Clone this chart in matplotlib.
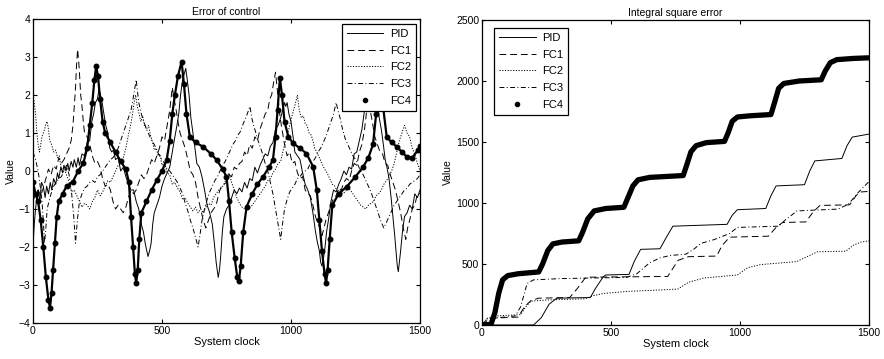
import matplotlib
matplotlib.use("Agg")
import matplotlib.pyplot as plt
from matplotlib.lines import Line2D

# ---------------- data: Error of control (left), (clock, error) pairs ----------------
pid_err = [(0, -2.0), (5, -1.4), (10, -1.0), (15, -0.7), (20, -0.5), (27, -0.8), (33, -0.3), (40, -0.4),
           (47, -0.7), (53, -0.4), (60, -0.6), (67, -0.3), (73, -0.5), (80, -0.2), (88, -0.35), (95, -0.05),
           (100, -0.2), (108, 0.1), (115, -0.05), (120, 0.15), (128, 0.0), (135, 0.2), (140, 0.0), (148, 0.25),
           (155, 0.1), (160, 0.3), (168, 0.1), (175, 0.35), (180, 0.15), (190, 0.45), (200, 0.4), (210, 0.75),
           (220, 0.8), (228, 1.3), (235, 1.5), (242, 1.8), (250, 1.9), (256, 2.15), (262, 2.0), (268, 1.8),
           (275, 1.5), (282, 1.2), (290, 1.0), (298, 0.6), (305, 0.5), (312, 0.55), (320, 0.3), (330, 0.35),
           (340, 0.0), (350, 0.1), (360, -0.15), (370, -0.35), (380, -0.5), (390, -0.5), (400, -0.8),
           (410, -1.0), (420, -1.4), (428, -1.6), (435, -1.9), (441, -2.1), (446, -2.25), (452, -2.1),
           (458, -1.9), (464, -1.4), (470, -1.1), (480, -0.9), (490, -0.7), (500, -0.4), (510, -0.2),
           (520, -0.05), (530, 0.1), (540, 0.5), (550, 0.9), (558, 1.2), (565, 1.5), (572, 2.0), (580, 2.4),
           (586, 2.55), (592, 2.7), (598, 2.4), (605, 2.0), (612, 1.4), (618, 1.1), (626, 0.7), (635, 0.2),
           (645, 0.1), (655, -0.15), (665, -0.5), (675, -0.9), (685, -1.1), (695, -1.4), (703, -1.9),
           (710, -2.4), (718, -2.8), (723, -2.6), (728, -2.2), (734, -1.6), (740, -1.2), (750, -1.0),
           (760, -0.9), (770, -0.7), (780, -0.5), (790, -0.6), (800, -0.45), (810, -0.55), (820, -0.3),
           (830, -0.45), (840, -0.2), (850, -0.25), (860, 0.1), (870, -0.05), (880, 0.15), (890, 0.3),
           (900, 0.45), (910, 0.4), (920, 0.65), (930, 0.75), (940, 1.1), (950, 1.2), (960, 1.4), (968, 1.6),
           (975, 1.8), (980, 1.7), (985, 1.8), (992, 1.5), (1000, 1.3), (1008, 0.9), (1015, 0.5), (1025, 0.4),
           (1035, 0.3), (1045, -0.05), (1055, -0.35), (1065, -0.5), (1075, -0.7), (1085, -1.1), (1095, -1.6),
           (1103, -1.9), (1110, -2.1), (1115, -2.4), (1120, -2.5), (1126, -2.3), (1132, -2.0), (1138, -1.6),
           (1145, -1.3), (1155, -0.8), (1165, -0.5), (1175, -0.55), (1185, -0.35), (1195, -0.2), (1205, 0.0),
           (1215, -0.1), (1225, 0.1), (1235, 0.05), (1245, 0.45), (1255, 0.5), (1265, 0.8), (1275, 1.1),
           (1285, 1.6), (1295, 1.7), (1305, 1.9), (1312, 2.1), (1320, 2.2), (1328, 2.0), (1335, 1.8),
           (1342, 1.4), (1350, 1.1), (1358, 0.7), (1365, 0.3), (1372, 0.1), (1380, -0.2), (1388, -0.7),
           (1395, -1.2), (1402, -1.7), (1408, -2.2), (1412, -2.5), (1416, -2.65), (1420, -2.4), (1425, -2.1),
           (1432, -1.6), (1440, -1.2), (1450, -1.1), (1460, -0.9), (1470, -1.0), (1480, -0.6), (1490, -0.7),
           (1500, -0.5)]

fc1_err = [(0, -0.8), (10, -0.6), (20, -0.5), (30, -0.65), (40, -0.45), (50, -0.2), (60, 0.05), (70, -0.1),
           (80, 0.15), (90, 0.05), (100, 0.35), (110, 0.2), (120, 0.3), (130, 0.45), (140, 0.6), (148, 0.8),
           (155, 1.2), (160, 1.7), (165, 2.2), (169, 2.8), (173, 3.2), (177, 2.9), (180, 2.6), (185, 2.0),
           (190, 1.7), (195, 1.3), (200, 1.0), (210, 0.9), (220, 0.7), (230, 0.4), (240, 0.2), (250, 0.25),
           (260, 0.1), (270, -0.2), (280, -0.4), (290, -0.35), (300, -0.5), (310, -0.8), (320, -1.0),
           (330, -0.9), (340, -1.0), (350, -1.1), (360, -0.95), (370, -0.7), (380, -0.5), (390, -0.6),
           (400, -0.5), (410, -0.3), (420, -0.1), (430, -0.2), (440, -0.1), (450, 0.1), (460, 0.3), (470, 0.2),
           (480, 0.4), (490, 0.6), (500, 0.9), (510, 0.8), (520, 1.2), (530, 1.6), (540, 2.2), (547, 1.9),
           (555, 1.6), (562, 1.3), (570, 1.0), (580, 0.8), (590, 0.6), (600, 0.3), (610, 0.0), (620, -0.1),
           (630, -0.3), (640, -0.7), (650, -1.0), (660, -1.3), (670, -1.5), (680, -1.3), (690, -1.1),
           (700, -1.0), (710, -0.9), (720, -0.6), (730, -0.4), (740, -0.35), (750, -0.3), (760, -0.1),
           (770, -0.15), (780, 0.1), (790, 0.05), (800, 0.2), (810, 0.25), (820, 0.5), (830, 0.4), (840, 0.7),
           (850, 0.6), (860, 0.9), (870, 0.8), (880, 1.1), (890, 1.3), (900, 1.5), (910, 1.6), (918, 1.9),
           (925, 2.0), (932, 2.3), (940, 2.6), (946, 2.2), (952, 1.8), (958, 1.4), (965, 1.1), (975, 0.7),
           (985, 0.4), (995, 0.5), (1005, 0.2), (1015, 0.25), (1025, -0.05), (1035, -0.2), (1045, -0.15),
           (1055, -0.5), (1065, -0.6), (1075, -0.65), (1085, -0.9), (1095, -1.2), (1105, -1.4), (1112, -1.5),
           (1120, -1.7), (1128, -1.5), (1135, -1.3), (1145, -1.1), (1155, -0.9), (1165, -0.7), (1175, -0.65),
           (1185, -0.45), (1195, -0.5), (1205, -0.3), (1215, -0.2), (1225, -0.25), (1235, 0.0), (1245, 0.2),
           (1255, 0.15), (1265, 0.5), (1275, 0.7), (1285, 1.1), (1292, 1.5), (1300, 2.0), (1307, 1.6),
           (1315, 1.3), (1325, 0.9), (1335, 0.7), (1345, 0.5), (1355, 0.45), (1365, 0.2), (1375, 0.15),
           (1385, -0.1), (1395, -0.3), (1405, -0.5), (1415, -0.8), (1425, -1.1), (1435, -1.5), (1445, -1.8),
           (1452, -1.5), (1460, -1.3), (1470, -1.0), (1480, -0.9), (1490, -0.6), (1500, -0.6)]

fc2_err = [(0, 2.0), (5, 1.8), (10, 1.5), (15, 1.0), (20, 0.7), (25, 0.5), (30, 0.7), (35, 0.9), (40, 1.0),
           (45, 1.1), (50, 1.25), (55, 1.3), (60, 1.1), (65, 0.8), (72, 0.7), (80, 0.5), (88, 0.55), (95, 0.35),
           (102, 0.4), (110, 0.05), (120, 0.1), (130, -0.1), (140, -0.3), (150, -0.55), (160, -0.5),
           (170, -0.65), (180, -0.8), (190, -0.95), (200, -0.85), (210, -0.9), (220, -1.0), (230, -0.8),
           (240, -0.7), (250, -0.5), (260, -0.65), (270, -0.55), (280, -0.4), (290, -0.25), (300, -0.3),
           (310, -0.15), (320, 0.0), (330, 0.15), (340, 0.2), (350, 0.35), (360, 0.6), (370, 0.95), (378, 1.2),
           (385, 1.45), (392, 1.8), (398, 2.0), (404, 1.7), (410, 1.55), (418, 1.3), (425, 1.45), (432, 1.2),
           (440, 1.1), (448, 1.2), (455, 0.95), (462, 0.8), (470, 0.55), (478, 0.6), (485, 0.4), (492, 0.45),
           (500, 0.15), (510, 0.2), (520, -0.05), (530, -0.1), (540, -0.35), (550, -0.3), (560, -0.45),
           (570, -0.55), (580, -0.75), (590, -0.7), (600, -0.85), (610, -0.95), (620, -1.05), (630, -0.95),
           (640, -1.1), (650, -1.0), (660, -1.1), (670, -0.95), (680, -0.85), (690, -0.9), (700, -0.7),
           (710, -0.6), (720, -0.5), (730, -0.45), (740, -0.35), (750, -0.2), (760, -0.05), (770, -0.3),
           (780, -0.5), (790, -0.7), (800, -0.85), (810, -0.95), (820, -1.0), (830, -1.05), (840, -0.95),
           (850, -0.9), (860, -0.8), (870, -0.7), (880, -0.6), (890, -0.5), (900, -0.4), (910, -0.25),
           (920, -0.2), (930, -0.05), (940, 0.05), (950, 0.2), (960, 0.25), (970, 0.55), (980, 0.8), (988, 1.0),
           (995, 1.2), (1002, 1.4), (1010, 1.6), (1018, 1.8), (1025, 2.0), (1032, 1.6), (1040, 1.4),
           (1048, 1.45), (1055, 1.25), (1062, 1.2), (1070, 1.0), (1078, 0.95), (1085, 0.8), (1092, 0.6),
           (1100, 0.5), (1110, 0.35), (1120, 0.2), (1130, 0.05), (1140, -0.05), (1150, -0.2), (1160, -0.35),
           (1170, -0.4), (1180, -0.55), (1190, -0.5), (1200, -0.6), (1210, -0.55), (1220, -0.45), (1230, -0.5),
           (1240, -0.6), (1250, -0.7), (1260, -0.8), (1270, -0.9), (1280, -0.95), (1290, -1.0), (1300, -0.9),
           (1310, -0.85), (1320, -0.8), (1330, -0.65), (1340, -0.6), (1350, -0.5), (1360, -0.35), (1370, -0.25),
           (1380, -0.15), (1390, 0.0), (1400, 0.2), (1410, 0.5), (1420, 0.8), (1430, 1.0), (1440, 1.2),
           (1450, 1.0), (1460, 0.9), (1470, 0.6), (1480, 0.45), (1490, 0.2), (1500, 0.0)]

fc3_err = [(0, 0.5), (10, 0.3), (20, 0.0), (28, -0.4), (35, -0.8), (40, -1.3), (45, -1.9), (50, -1.5),
           (55, -1.0), (62, -0.8), (70, -0.6), (80, -0.4), (90, -0.3), (100, -0.2), (110, -0.15), (120, 0.0),
           (130, 0.15), (140, -0.1), (150, -0.6), (158, -1.2), (165, -1.9), (172, -1.3), (180, -0.8),
           (190, -0.6), (200, -0.45), (210, -0.4), (220, -0.3), (230, -0.25), (240, -0.3), (250, -0.15),
           (260, -0.1), (270, 0.0), (280, 0.1), (290, 0.2), (300, 0.3), (310, 0.35), (320, 0.45), (330, 0.6),
           (340, 0.8), (350, 1.0), (360, 1.2), (370, 1.4), (380, 1.6), (388, 1.9), (395, 2.2), (400, 2.4),
           (405, 2.1), (410, 1.8), (420, 1.5), (430, 1.3), (440, 1.1), (450, 0.95), (460, 0.8), (470, 0.7),
           (480, 0.55), (490, 0.4), (500, 0.3), (510, 0.2), (520, 0.05), (530, 0.0), (540, -0.1), (550, -0.2),
           (560, -0.3), (570, -0.45), (580, -0.6), (590, -0.85), (600, -1.05), (610, -1.3), (620, -1.5),
           (630, -1.75), (640, -2.0), (647, -1.7), (655, -1.3), (665, -1.0), (675, -0.75), (685, -0.55),
           (695, -0.4), (705, -0.25), (715, -0.15), (725, 0.0), (735, 0.15), (745, 0.25), (755, 0.4),
           (765, 0.55), (775, 0.7), (785, 0.8), (795, 0.95), (805, 1.05), (815, 1.25), (825, 1.4), (833, 1.55),
           (841, 1.7), (848, 1.4), (855, 1.2), (862, 1.05), (870, 0.85), (880, 0.65), (890, 0.45), (900, 0.2),
           (910, 0.0), (920, -0.3), (930, -0.6), (940, -1.0), (950, -1.4), (960, -1.8), (967, -1.4),
           (975, -1.0), (985, -0.75), (995, -0.55), (1005, -0.45), (1015, -0.35), (1025, -0.2), (1035, -0.15),
           (1045, -0.05), (1055, 0.0), (1065, 0.05), (1075, 0.2), (1085, 0.25), (1095, 0.35), (1105, 0.5),
           (1115, 0.6), (1125, 0.75), (1135, 0.9), (1145, 1.1), (1155, 1.3), (1165, 1.5), (1175, 1.8),
           (1182, 1.6), (1190, 1.4), (1200, 1.1), (1210, 0.85), (1220, 0.7), (1230, 0.55), (1240, 0.4),
           (1250, 0.3), (1260, 0.15), (1270, 0.0), (1280, -0.1), (1290, -0.25), (1300, -0.4), (1310, -0.55),
           (1320, -0.75), (1330, -0.95), (1340, -1.15), (1350, -1.35), (1360, -1.5), (1370, -1.35),
           (1380, -1.2), (1390, -1.05), (1400, -0.9), (1410, -0.8), (1420, -0.7), (1430, -0.6), (1440, -0.5),
           (1450, -0.45), (1460, -0.35), (1470, -0.3), (1480, -0.25), (1490, -0.2), (1500, -0.1)]

fc4_err = [(0, -0.3), (10, -0.6), (20, -0.8), (30, -1.3), (40, -2.0), (50, -2.8), (60, -3.4), (66, -3.6),
           (72, -3.2), (78, -2.6), (85, -1.9), (92, -1.2), (100, -0.8), (115, -0.6), (130, -0.4), (155, -0.28),
           (175, 0.0), (195, 0.2), (210, 0.6), (220, 1.2), (230, 1.8), (238, 2.4), (245, 2.75), (252, 2.5),
           (260, 1.9), (270, 1.3), (280, 1.0), (300, 0.75), (320, 0.5), (340, 0.25), (360, 0.05), (372, -0.3),
           (380, -1.2), (388, -2.0), (395, -2.7), (400, -2.95), (406, -2.6), (412, -1.8), (420, -1.1),
           (440, -0.8), (460, -0.5), (480, -0.24), (500, 0.0), (518, 0.29), (530, 0.8), (540, 1.5), (550, 2.0),
           (562, 2.5), (576, 2.88), (585, 2.3), (595, 1.5), (608, 0.9), (630, 0.75), (659, 0.64), (690, 0.45),
           (712, 0.29), (735, 0.05), (750, -0.15), (760, -0.8), (770, -1.6), (782, -2.3), (792, -2.8),
           (798, -2.9), (805, -2.5), (815, -1.6), (828, -0.94), (850, -0.6), (870, -0.35), (892, -0.15),
           (915, 0.1), (930, 0.29), (940, 0.9), (948, 1.6), (957, 2.45), (965, 2.0), (975, 1.3), (990, 0.9),
           (1008, 0.73), (1035, 0.6), (1060, 0.46), (1086, 0.11), (1100, -0.5), (1110, -1.3), (1120, -2.1),
           (1130, -2.7), (1136, -2.95), (1142, -2.6), (1150, -1.8), (1160, -0.9), (1185, -0.6), (1216, -0.41),
           (1250, -0.15), (1280, 0.11), (1300, 0.35), (1318, 0.7), (1330, 1.5), (1345, 2.3), (1355, 1.8),
           (1371, 0.9), (1390, 0.75), (1410, 0.64), (1430, 0.5), (1448, 0.38), (1470, 0.35), (1492, 0.55),
           (1500, 0.65)]

# ---------------- data: Integral square error (right), (clock, ISE) pairs ----------------
ise_pid = [(0, 0), (200, 0), (230, 60), (260, 170), (290, 220), (420, 225), (440, 300), (470, 395),
           (480, 410), (570, 415), (590, 520), (615, 620), (690, 625), (715, 720), (740, 810), (950, 825),
           (970, 900), (990, 945), (1100, 955), (1120, 1060), (1140, 1140), (1250, 1150), (1270, 1260),
           (1290, 1345), (1395, 1365), (1415, 1470), (1435, 1540), (1500, 1565)]
ise_fc1 = [(0, 0), (30, 55), (140, 65), (165, 150), (190, 200), (220, 220), (340, 225), (370, 300),
           (400, 385), (420, 392), (720, 398), (760, 530), (800, 560), (910, 565), (930, 650), (960, 720),
           (1110, 728), (1140, 800), (1165, 840), (1255, 845), (1285, 930), (1310, 980), (1425, 985),
           (1450, 1060), (1465, 1090), (1500, 1095)]
ise_fc2 = [(0, 0), (20, 55), (60, 75), (150, 85), (170, 150), (190, 195), (250, 205), (400, 215),
           (430, 240), (470, 258), (560, 275), (700, 288), (760, 295), (800, 350), (860, 385), (990, 410),
           (1030, 470), (1080, 495), (1220, 520), (1270, 570), (1300, 600), (1410, 605), (1440, 655),
           (1470, 680), (1500, 690)]
ise_fc3 = [(0, 0), (20, 50), (130, 75), (150, 150), (175, 340), (200, 370), (300, 380), (420, 385),
           (560, 390), (600, 420), (650, 510), (690, 550), (730, 570), (790, 580), (820, 620), (850, 670),
           (900, 700), (960, 750), (990, 800), (1150, 810), (1175, 860), (1200, 900), (1220, 935),
           (1380, 950), (1420, 990), (1460, 1090), (1500, 1175)]
ise_fc4 = [(0, 0), (35, 5), (50, 100), (65, 260), (80, 370), (100, 405), (140, 420), (220, 435),
           (235, 500), (255, 610), (275, 665), (310, 680), (375, 690), (390, 760), (410, 870), (435, 935),
           (480, 955), (550, 965), (565, 1040), (585, 1140), (605, 1190), (650, 1210), (780, 1225),
           (795, 1320), (810, 1420), (830, 1470), (870, 1495), (940, 1505), (955, 1580), (970, 1670),
           (990, 1705), (1040, 1715), (1120, 1725), (1135, 1830), (1150, 1940), (1170, 1980), (1230, 2000),
           (1315, 2010), (1330, 2080), (1350, 2150), (1375, 2175), (1440, 2185), (1500, 2190)]

labels = ["PID", "FC1", "FC2", "FC3", "FC4"]
xticks = [0, 500, 1000, 1500]
left_yticks = [-4, -3, -2, -1, 0, 1, 2, 3, 4]
right_yticks = [0, 500, 1000, 1500, 2000, 2500]


def xy(pairs):
    return [p[0] for p in pairs], [p[1] for p in pairs]


# ---------------- drawing ----------------
plt.rcParams['font.family'] = ['Liberation Sans', 'DejaVu Sans']
fig = plt.figure(figsize=(8.84, 3.59), dpi=100)
axL = fig.add_axes([0.0373, 0.1003, 0.4378, 0.8468])
axR = fig.add_axes([0.5452, 0.0947, 0.4378, 0.8496])

lw = 0.7
dash = (0, (7, 4))
dot = (0, (1.2, 1.6))
dashdot = (0, (5, 2.5, 1, 2.5))

axL.plot(*xy(pid_err), color='k', lw=lw, ls='-')
axL.plot(*xy(fc1_err), color='k', lw=lw, ls=dash)
axL.plot(*xy(fc2_err), color='k', lw=lw, ls=dot)
axL.plot(*xy(fc3_err), color='k', lw=lw, ls=dashdot)
axL.plot(*xy(fc4_err), color='k', lw=1.6, ls='-', marker='.', ms=6.5)

axR.plot(*xy(ise_pid), color='k', lw=lw, ls='-')
axR.plot(*xy(ise_fc1), color='k', lw=lw, ls=dash)
axR.plot(*xy(ise_fc2), color='k', lw=lw, ls=dot)
axR.plot(*xy(ise_fc3), color='k', lw=lw, ls=dashdot)
axR.plot(*xy(ise_fc4), color='k', lw=3.8, ls='-', solid_capstyle='round')

handles = [Line2D([], [], color='k', lw=lw, ls='-'),
           Line2D([], [], color='k', lw=lw, ls=dash),
           Line2D([], [], color='k', lw=lw, ls=dot),
           Line2D([], [], color='k', lw=lw, ls=dashdot),
           Line2D([], [], color='k', ls='none', marker='.', ms=6)]

for ax, title, yt, ylim in [(axL, "Error of control", left_yticks, (-4, 4)),
                            (axR, "Integral square error", right_yticks, (0, 2500))]:
    ax.set_xlim(0, 1500)
    ax.set_ylim(*ylim)
    ax.set_xticks(xticks)
    ax.set_yticks(yt)
    ax.tick_params(direction='in', top=True, right=True, length=3, width=0.8,
                   labelsize=7.5, pad=2)
    for s in ax.spines.values():
        s.set_linewidth(0.9)
    ax.set_title(title, fontsize=7.5, pad=3)
    ax.set_xlabel("System clock", fontsize=8, labelpad=1)
    ax.set_ylabel("Value", fontsize=7.5, labelpad=2)

common = dict(fontsize=8, handlelength=3.3, framealpha=1, fancybox=False, edgecolor='k',
              labelspacing=0.6, handletextpad=0.6, borderpad=0.45, borderaxespad=0)
legL = axL.legend(handles, labels, loc='upper right', bbox_to_anchor=(0.9897, 0.9836), **common)
legR = axR.legend(handles, labels, loc='upper left', bbox_to_anchor=(0.031, 0.974), **common)
for leg in (legL, legR):
    leg.get_frame().set_linewidth(0.9)

fig.savefig("out.png", dpi=100)
